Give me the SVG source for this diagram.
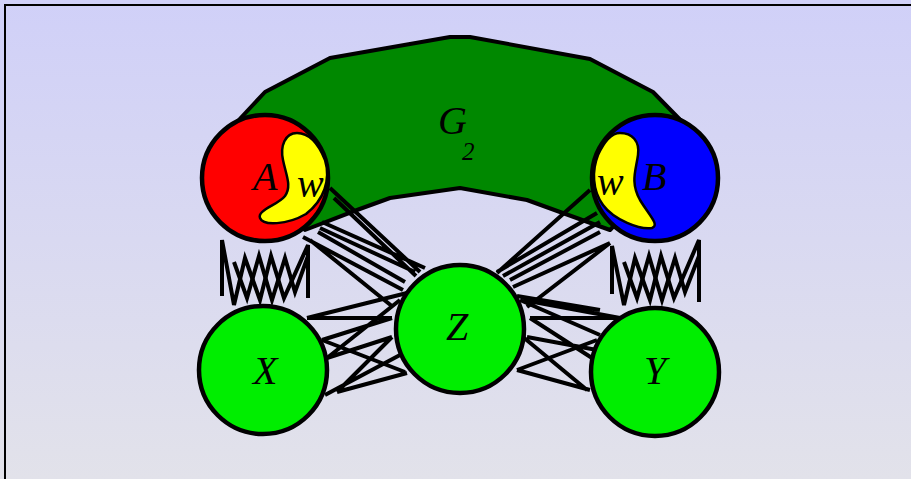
<svg xmlns="http://www.w3.org/2000/svg" width="911" height="479" viewBox="0 0 911 479">
<defs>
<linearGradient id="bg" x1="0" y1="0" x2="0" y2="1">
<stop offset="0" stop-color="#d0d0f8"/>
<stop offset="1" stop-color="#e2e2ea"/>
</linearGradient>
</defs>
<style>
.node{stroke:#000;stroke-width:4.5}
.edge{stroke:#000;stroke-width:4;fill:none;stroke-linejoin:miter}
.lbl{font-family:"Liberation Serif",serif;font-style:italic;font-size:40px;fill:#000}
.blob{fill:#ffff00;stroke:#000;stroke-width:2.5}
</style>
<rect x="0" y="0" width="911" height="479" fill="url(#bg)"/>
<rect x="5" y="5" width="920" height="490" fill="none" stroke="#000" stroke-width="2"/>

<g id="G2">
<polygon points="222,138 265,92 330,58 450,37 470,37 590,59 653,92 698,138 610,230 560,212 527,200 460,188 390,198 357,210 305,230" fill="#008800" stroke="#000" stroke-width="4" stroke-linejoin="round"/>
<text class="lbl" x="438" y="134">G</text>
<text class="lbl" x="462" y="160" style="font-size:25px">2</text>
</g>

<g id="connectors">
<!-- A to Z -->
<path class="edge" d="M330,188 L420,272 M334,198 L416,276 M320,228 L415,272 M318,232 L405,282 M303,237 L403,290 M310,240 L393,307 M322,222 L425,268"/>
<!-- X to Z -->
<path class="edge" d="M307,318 L407,293 M307,318 L392,318 M322,340 L392,318 M322,340 L405,372 M327,358 L392,337 M327,358 L400,300 M337,392 L407,373 M337,392 L392,337 M325,395 L400,355"/>
<!-- Z to Y -->
<path class="edge" d="M517,296 L600,310 M523,300 L620,318 M530,318 L620,318 M530,318 L592,358 M523,337 L587,390 M517,370 L597,340 M517,370 L590,390 M527,337 L597,350 M520,300 L600,335"/>
<!-- Z to B -->
<path class="edge" d="M497,273 L590,190 M497,272 L597,213 M503,276 L600,222 M510,280 L600,232 M513,287 L610,243 M527,307 L610,243"/>
<!-- spring A-X -->
<polyline class="edge" points="222,296 222,240 234,305 245,258 260,300 271,256 284,298 308,245 308,298"/>
<polyline class="edge" points="234,262 247,298 259,256 272,300 285,258 295,292 308,256"/>
<!-- spring B-Y -->
<polyline class="edge" points="612,294 612,246 624,305 635,258 650,300 661,256 674,298 699,240 699,302"/>
<polyline class="edge" points="624,262 637,298 649,256 662,300 675,258 685,292 699,256"/>
</g>

<g id="A">
<circle class="node" cx="265" cy="178" r="63" fill="#ff0000"/>
<path class="blob" d="M297,133 C285,133 280,146 283,160 C286,175 292,186 285,196 C278,205 257,210 260,218 C263,226 287,225 306,214 C324,200 331,180 325,160 C319,145 310,133 297,133 Z"/>
<text class="lbl" x="253" y="190">A</text>
<text class="lbl" x="297" y="197">w</text>
</g>

<g id="B">
<circle class="node" cx="655" cy="178" r="63" fill="#0000ff"/>
<path class="blob" d="M620,133 C632,133 640,141 638,155 C636,170 630,182 640,200 C649,215 660,225 652,228 C640,230 614,220 603,205 C592,190 592,170 598,155 C604,142 612,133 620,133 Z"/>
<text class="lbl" x="597" y="195">w</text>
<text class="lbl" x="642" y="190">B</text>
</g>

<g id="X">
<circle class="node" cx="263" cy="370" r="64" fill="#00ee00"/>
<text class="lbl" x="253" y="384">X</text>
</g>

<g id="Y">
<circle class="node" cx="655" cy="372" r="64" fill="#00ee00"/>
<text class="lbl" x="644" y="384">Y</text>
</g>

<g id="Z">
<circle class="node" cx="460" cy="329" r="64" fill="#00ee00"/>
<text class="lbl" x="446" y="340">Z</text>
</g>
</svg>
